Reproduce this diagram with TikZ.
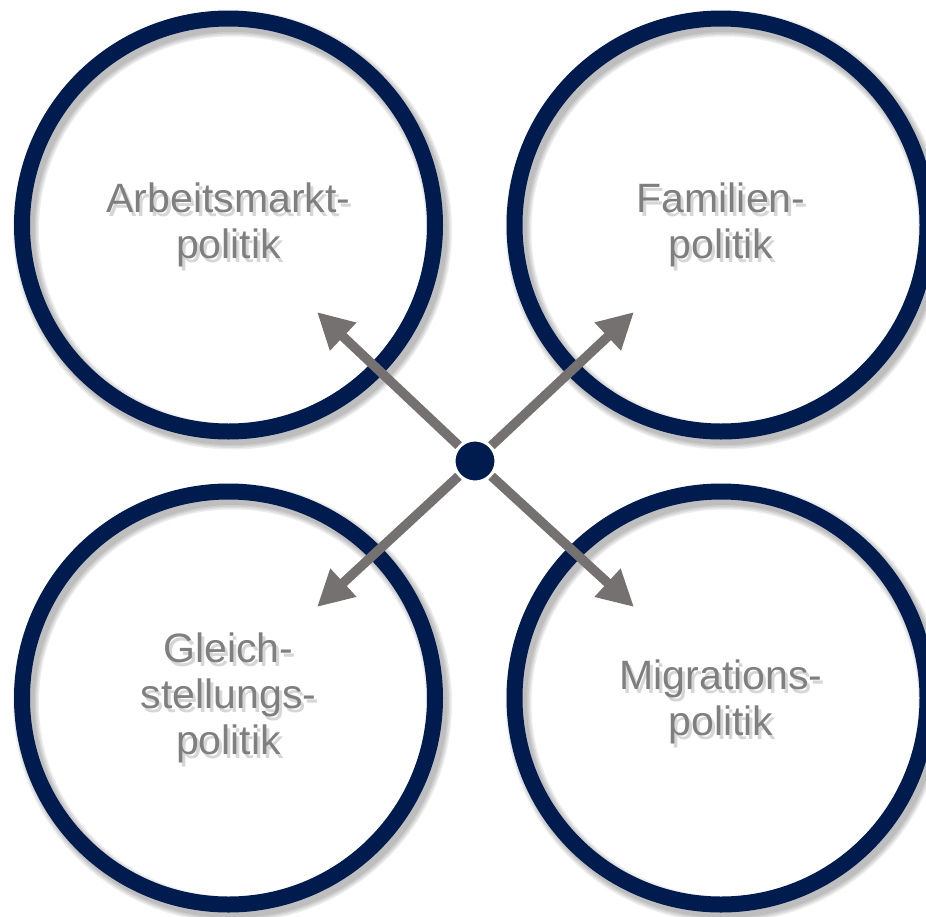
\documentclass[tikz,border=0pt]{standalone}
\usepackage{fontspec}
\setmainfont{Liberation Sans}
\usetikzlibrary{arrows.meta}
\usetikzlibrary{positioning}
\definecolor{navy}{RGB}{0,27,77}
\definecolor{agray}{RGB}{118,113,113}
\definecolor{tgray}{RGB}{127,127,127}

\tikzset{
  ring/.style={circle, draw=navy, line width=16pt, minimum size=413pt, inner sep=0pt},
  policytext/.style={text=tgray, align=center, font=\fontsize{41}{46}\selectfont},
  textshadow/.style={text=black, text opacity=0.16, align=center, font=\fontsize{41}{46}\selectfont},
  arrowline/.style={draw=agray, line width=9.5pt, -{Triangle[length=36pt, width=36pt]}},
}

\begin{document}
\begin{tikzpicture}[x=1pt, y=-1pt]
    \useasboundingbox (0, 0) rectangle (926, 916);

    \foreach \cx/\cy in {228.5/225, 721/225, 228.5/698, 721/698} {
      \foreach \w in {17, 20, 23, 26}
        \draw [black, opacity=0.07, line width=\w pt] (\cx + 4, \cy + 5) circle (206.5);
    }

    \node [ring] (arbeit) at (228.5, 225) {};
    \node [ring] (familie) at (721, 225) {};
    \node [ring] (gleich) at (228.5, 698) {};
    \node [ring] (migration) at (721, 698) {};

    \node [textshadow] (arbeit-s) at ([shift={(3, 4)}] arbeit) {Arbeitsmarkt-\\politik};
    \node [textshadow] (familie-s) at ([shift={(3, 4)}] familie) {Familien-\\politik};
    \node [textshadow] (gleich-s) at ([shift={(3, 4)}] gleich) {Gleich-\\stellungs-\\politik};
    \node [textshadow] (migration-s) at ([shift={(3, 8)}] migration) {Migrations-\\politik};

    \node [policytext] (arbeit-t) at (arbeit) {Arbeitsmarkt-\\politik};
    \node [policytext] (familie-t) at (familie) {Familien-\\politik};
    \node [policytext] (gleich-t) at (gleich) {Gleich-\\stellungs-\\politik};
    \node [policytext] (migration-t) at ([shift={(0, 4)}] migration) {Migrations-\\politik};

    \node [circle, fill=navy, draw=white, line width=3pt, minimum size=42pt, inner sep=0pt] (hub) at (475, 461) {};

    \coordinate (nw) at (317, 312);
    \coordinate (ne) at (634, 312);
    \coordinate (sw) at (317, 607);
    \coordinate (se) at (634, 607);

    \draw [arrowline] (hub) -- (nw);
    \draw [arrowline] (hub) -- (ne);
    \draw [arrowline] (hub) -- (sw);
    \draw [arrowline] (hub) -- (se);
\end{tikzpicture}
\end{document}
